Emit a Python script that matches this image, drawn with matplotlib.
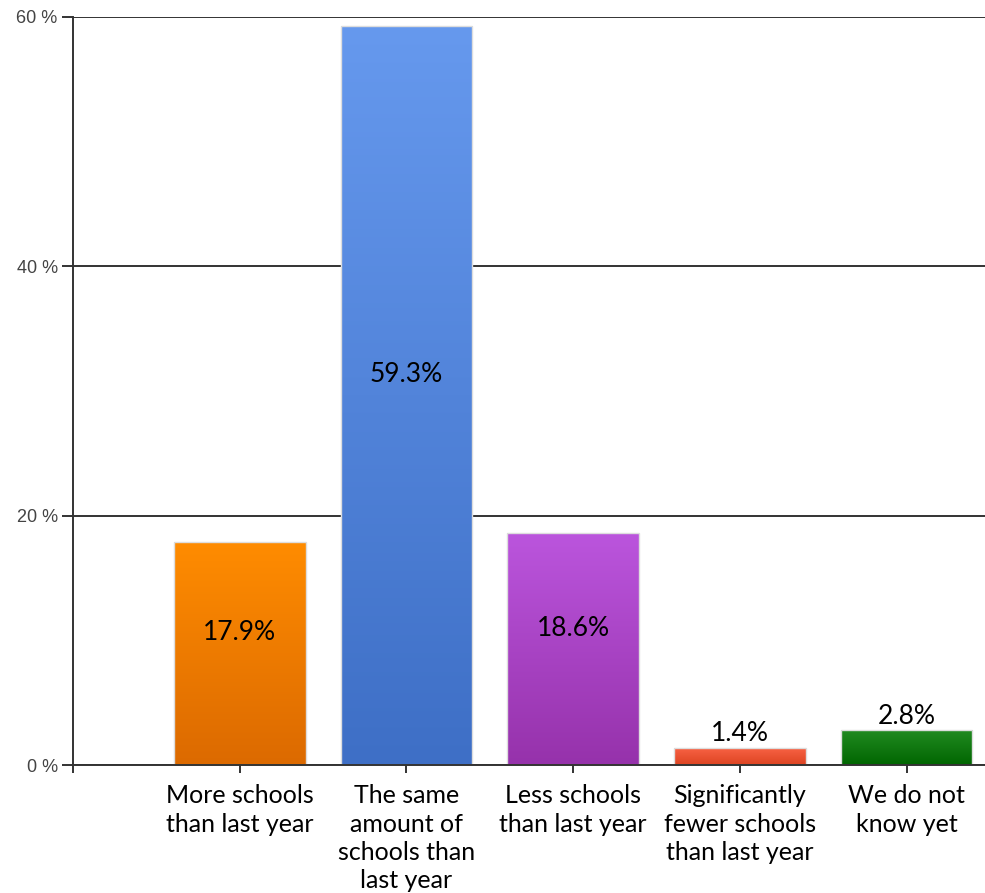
import matplotlib
matplotlib.use('Agg')
import matplotlib.pyplot as plt
import numpy as np
from matplotlib.colors import LinearSegmentedColormap

categories = [
    "More schools\nthan last year",
    "The same\namount of\nschools than\nlast year",
    "Less schools\nthan last year",
    "Significantly\nfewer schools\nthan last year",
    "We do not\nknow yet",
]
values = [17.9, 59.3, 18.6, 1.4, 2.8]
value_labels = ["17.9%", "59.3%", "18.6%", "1.4%", "2.8%"]
y_ticks = [0, 20, 40, 60]
y_tick_labels = ["0 %", "20 %", "40 %", "60 %"]

# (top colour, bottom colour) for each bar's vertical gradient
gradients = [
    ('#ff8c00', '#dc6a00'),
    ('#6699ee', '#3e6fc6'),
    ('#bb55dd', '#9632ab'),
    ('#f96345', '#dd4422'),
    ('#228a22', '#006600'),
]

LABEL_FONT = ['Lato', 'DejaVu Sans']

fig = plt.figure(figsize=(9.85, 8.93), dpi=100)
ax = fig.add_axes([0.0741, 0.1433, 0.9259, 0.8377])

x = np.arange(1, len(values) + 1)
bars = ax.bar(x, values, width=0.79, color='none', edgecolor='#dddddd',
              linewidth=1.0, zorder=3)

# gradient fill, clipped to each bar
for bar, (top, bottom) in zip(bars, gradients):
    cmap = LinearSegmentedColormap.from_list('g', [bottom, top])
    grad = np.linspace(0, 1, 256).reshape(-1, 1)
    x0, y0 = bar.get_x(), bar.get_y()
    w, h = bar.get_width(), bar.get_height()
    im = ax.imshow(grad, cmap=cmap, origin='lower', aspect='auto',
                   extent=(x0, x0 + w, y0, y0 + h), zorder=2)
    im.set_clip_path(bar)

# value labels: inside tall bars, above short ones
for bar, val, lab in zip(bars, values, value_labels):
    cx = bar.get_x() + bar.get_width() / 2
    if val > 10:
        ax.annotate(lab, (cx, val / 2), xytext=(0, 15), textcoords='offset points',
                    ha='center', va='center', fontsize=19, family=LABEL_FONT,
                    color='black', zorder=4)
    else:
        ax.annotate(lab, (cx, val), xytext=(0, 1), textcoords='offset points',
                    ha='center', va='bottom', fontsize=19, family=LABEL_FONT,
                    color='black', zorder=4)

ax.set_xlim(0, 5.47)
ax.set_ylim(0, 60)
ax.set_xticks([0] + list(x))
ax.set_xticklabels([''] + categories, fontsize=18, family=LABEL_FONT,
                   linespacing=1.27)
ax.set_yticks(y_ticks)
ax.set_yticklabels(y_tick_labels, fontsize=13, color='#444444',
                   family=['Liberation Sans', 'DejaVu Sans'])

ax.grid(axis='y', color='#333333', linewidth=1.4, zorder=1)
ax.set_axisbelow(True)
for side in ('top', 'right'):
    ax.spines[side].set_visible(False)
for side in ('left', 'bottom'):
    ax.spines[side].set_color('#333333')
    ax.spines[side].set_linewidth(1.4)
    ax.spines[side].set_zorder(5)
ax.tick_params(axis='y', length=8, width=1.4, color='#333333', pad=3)
ax.tick_params(axis='x', length=6, width=1.4, color='#333333', pad=8)

fig.savefig('out.png', dpi=100)
